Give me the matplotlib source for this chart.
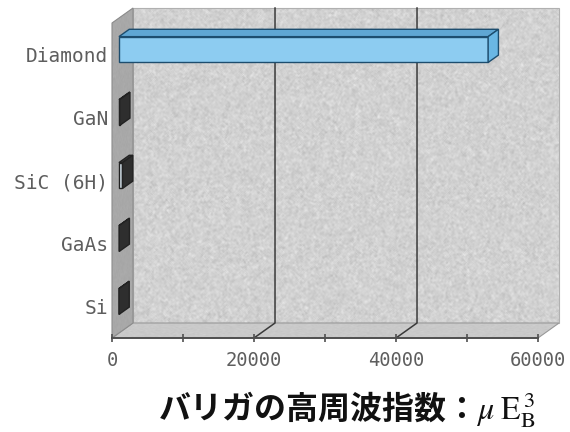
import matplotlib
matplotlib.use("Agg")
import matplotlib.pyplot as plt
from matplotlib.patches import Polygon
import numpy as np

plt.rcParams["mathtext.fontset"] = "stix"

# Baliga high-frequency figure of merit by material
materials = ["Si", "GaAs", "SiC (6H)", "GaN", "Diamond"]
merit = [1, 30, 500, 100, 52000]
xticks_major = [0, 20000, 40000, 60000]
xticks_minor = [10000, 30000, 50000]
xmax = 60000

# oblique 3-D box: depth offsets in data units
DEPTH_X = 2960
DEPTH_Y = 0.238
BAR_D0, BAR_D1 = 0.33, 0.82
BAR_H = 0.41

fig = plt.figure(figsize=(5.70, 4.32), dpi=100)
W, H = 570, 432
left, right, top, bottom = 112, 538, 23, 338
ax = fig.add_axes([left / W, 1 - bottom / H, (right - left) / W, (bottom - top) / H])
ax.set_xlim(0, xmax)
ax.set_ylim(-0.5, len(materials) - 0.5)
ax.patch.set_visible(False)

y0, y1 = -0.5, len(materials) - 0.5


def granite(shape, seed):
    # fine stone-like grain for the wall fill (wrap-around smoothing, no edge bands)
    rng = np.random.default_rng(seed)
    n = rng.normal(size=shape)
    s = np.zeros_like(n)
    for dy in (-1, 0, 1):
        for dx in (-1, 0, 1):
            s += np.roll(np.roll(n, dy, axis=0), dx, axis=1)
    s = 0.6 * s / s.std() + 0.4 * n / n.std()
    return s / s.std()


def textured(poly_pts, base, amp, seed, z):
    poly = Polygon(poly_pts, closed=True, facecolor=str(base), edgecolor="none",
                   clip_on=False, zorder=z)
    ax.add_patch(poly)
    xs = [p[0] for p in poly_pts]
    ys = [p[1] for p in poly_pts]
    g = granite((320, 450), seed)
    img = np.clip(base + amp * g, 0, 1)
    im = ax.imshow(img, cmap="gray", vmin=0, vmax=1, aspect="auto",
                   extent=(min(xs), max(xs), min(ys), max(ys)),
                   interpolation="antialiased", zorder=z + 0.01)
    im.set_clip_box(fig.bbox)
    im.set_clip_path(poly)
    return poly


back_pts = [(DEPTH_X, y0 + DEPTH_Y), (xmax + DEPTH_X, y0 + DEPTH_Y),
            (xmax + DEPTH_X, y1 + DEPTH_Y), (DEPTH_X, y1 + DEPTH_Y)]
floor_pts = [(0, y0), (xmax, y0), (xmax + DEPTH_X, y0 + DEPTH_Y), (DEPTH_X, y0 + DEPTH_Y)]
wall_pts = [(0, y0), (DEPTH_X, y0 + DEPTH_Y), (DEPTH_X, y1 + DEPTH_Y), (0, y1)]

textured(back_pts, 0.82, 0.022, 1, 0)
textured(floor_pts, 0.79, 0.02, 2, 0.5)
textured(wall_pts, 0.66, 0.015, 3, 0.6)
for pts, ec, z in [(back_pts, "#b0b0b0", 0.3), (floor_pts, "#9a9a9a", 0.55),
                   (wall_pts, "#8c8c8c", 0.65)]:
    ax.add_patch(Polygon(pts, closed=True, facecolor="none", edgecolor=ec,
                         lw=0.8, clip_on=False, zorder=z))

ax.set_xlim(0, xmax)
ax.set_ylim(-0.5, len(materials) - 0.5)

# gridlines on wall and floor
for gx in xticks_major[1:-1]:
    ax.plot([gx + DEPTH_X, gx + DEPTH_X, gx], [y1 + DEPTH_Y, y0 + DEPTH_Y, y0],
            color="#3a3a3a", lw=1.1, clip_on=False, zorder=1)

# bars: front face, top face, end cap
pos = np.arange(len(materials))
dx0, dy0 = BAR_D0 * DEPTH_X, BAR_D0 * DEPTH_Y
ddx, ddy = (BAR_D1 - BAR_D0) * DEPTH_X, (BAR_D1 - BAR_D0) * DEPTH_Y
for i, (name, v) in enumerate(zip(materials, merit)):
    big = v > 5000
    front_c = "#8dccf1" if big else "#d8e6ee"
    top_c = "#5fa6d3" if big else "#3a3a3a"
    cap_c = "#6ab7e4" if big else "#2e2e2e"
    edge_c = "#1d4d6e" if big else "#222222"
    yc = pos[i] + dy0
    yt, yb = yc + BAR_H / 2, yc - BAR_H / 2
    ax.barh(yc, v, height=BAR_H, left=dx0, color=front_c, edgecolor=edge_c,
            lw=1.0, zorder=3, clip_on=False)
    ax.add_patch(Polygon([(dx0, yt), (dx0 + v, yt), (dx0 + v + ddx, yt + ddy),
                          (dx0 + ddx, yt + ddy)], closed=True, facecolor=top_c,
                         edgecolor=edge_c, lw=1.0, zorder=3, clip_on=False))
    ax.add_patch(Polygon([(dx0 + v, yb), (dx0 + v, yt), (dx0 + v + ddx, yt + ddy),
                          (dx0 + v + ddx, yb + ddy)], closed=True, facecolor=cap_c,
                         edgecolor=edge_c, lw=1.0, zorder=3, clip_on=False))

# axes decoration
for s in ["top", "right", "left"]:
    ax.spines[s].set_visible(False)
ax.spines["bottom"].set_color("#505050")
ax.spines["bottom"].set_linewidth(1.4)
ax.spines["bottom"].set_zorder(2)
ax.set_xticks(xticks_major)
ax.set_xticks(xticks_minor, minor=True)
ax.set_xticklabels([str(t) for t in xticks_major])
ax.tick_params(axis="x", which="both", direction="inout", length=6, width=1.2,
               color="#505050", labelsize=13.5, labelcolor="#5e5e5e", pad=6)
ax.set_yticks(pos)
ax.set_yticklabels(materials)
ax.tick_params(axis="y", length=0, labelsize=14, labelcolor="#5e5e5e", pad=3)
for lab in ax.get_xticklabels() + ax.get_yticklabels():
    lab.set_family("DejaVu Sans Mono")

fig.text(347 / W, 1 - 410 / H,
         "バリガの高周波指数：$\\mu\\;\\mathrm{E}_{\\mathrm{B}}^{\\,3}$",
         ha="center", va="center", fontsize=23, fontweight="bold",
         family=["Noto Sans CJK JP", "DejaVu Sans"], color="#111111")

fig.savefig("out.png", dpi=100)
